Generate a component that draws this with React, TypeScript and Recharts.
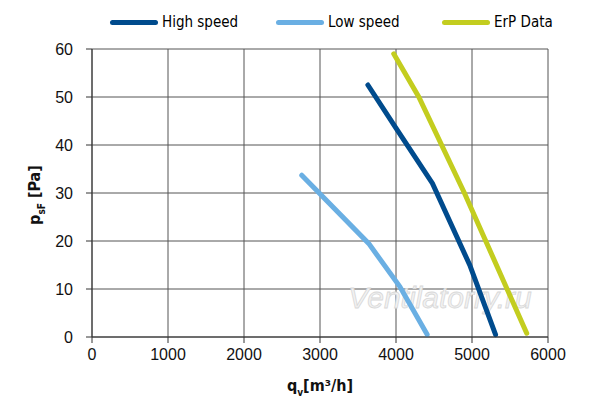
import { CartesianGrid, Label, Line, LineChart, XAxis, YAxis } from 'recharts';

const xTicks = [0, 1000, 2000, 3000, 4000, 5000, 6000];
const yTicks = [0, 10, 20, 30, 40, 50, 60];

const highSpeed = [
  { q: 3630, p: 52.5 },
  { q: 4000, p: 43.5 },
  { q: 4480, p: 32 },
  { q: 4970, p: 15 },
  { q: 5310, p: 0.5 },
];

const lowSpeed = [
  { q: 2760, p: 33.7 },
  { q: 3640, p: 19.5 },
  { q: 4050, p: 10.5 },
  { q: 4410, p: 0.5 },
];

const erpData = [
  { q: 3970, p: 59 },
  { q: 4300, p: 50 },
  { q: 4900, p: 30 },
  { q: 5720, p: 0.8 },
];

const series = [
  { name: 'High speed', data: highSpeed, color: '#004b8d' },
  { name: 'Low speed', data: lowSpeed, color: '#6aafe3' },
  { name: 'ErP Data', data: erpData, color: '#c3cd1f' },
];

const condensed = '"DejaVu Sans Condensed", "DejaVu Sans", sans-serif';
const plain = '"Liberation Sans", Arial, sans-serif';

// legend drawn on top so it doesn't eat plot space
function LegendRow() {
  return (
    <div
      style={{
        position: 'absolute',
        top: 12,
        left: 110,
        display: 'flex',
        whiteSpace: 'nowrap',
        fontFamily: condensed,
        fontStretch: 'condensed',
        fontSize: 15,
        lineHeight: '20px',
      }}
    >
      {series.map((s) => (
        <div key={s.name} style={{ display: 'flex', alignItems: 'center', width: 166 }}>
          <span style={{ width: 48, height: 5, borderRadius: 3, background: s.color, marginRight: 4 }} />
          <span style={{ color: '#000' }}>{s.name}</span>
        </div>
      ))}
    </div>
  );
}

export default function App() {
  return (
    <div style={{ position: 'absolute', left: 0, top: 0, width: 600, height: 406, background: '#fff' }}>
      <LineChart width={600} height={406} margin={{ top: 49, right: 52, bottom: 0, left: 32 }}>
        <CartesianGrid stroke="#555" strokeWidth={1} />
        <XAxis
          type="number"
          dataKey="q"
          domain={[0, 6000]}
          ticks={xTicks}
          height={69}
          stroke="#333"
          tickSize={6}
          tickMargin={6}
          tick={{ fill: '#111', fontSize: 16, fontFamily: plain }}
        >
          <Label
            content={() => (
              <text
                x={320}
                y={391}
                textAnchor="middle"
                fontFamily={condensed}
                fontStretch="condensed"
                fontWeight="bold"
                fontSize={16}
                fill="#111"
              >
                q<tspan dy={5} fontSize={10}>v</tspan>
                <tspan dy={-5}>[m³/h]</tspan>
              </text>
            )}
          />
        </XAxis>
        <YAxis
          type="number"
          dataKey="p"
          domain={[0, 60]}
          ticks={yTicks}
          width={60}
          stroke="#333"
          tickSize={6}
          tickMargin={13}
          tick={{ fill: '#111', fontSize: 16, fontFamily: plain }}
        >
          <Label
            content={() => (
              <text
                x={40}
                y={195}
                transform="rotate(-90 40 195)"
                textAnchor="middle"
                fontFamily={condensed}
                fontStretch="condensed"
                fontWeight="bold"
                fontSize={16}
                fill="#111"
              >
                p<tspan dy={5} fontSize={10}>sF</tspan>
                <tspan dy={-5}> [Pa]</tspan>
              </text>
            )}
          />
        </YAxis>
        {series.map((s) => (
          <Line
            key={s.name}
            name={s.name}
            data={s.data}
            dataKey="p"
            type="linear"
            stroke={s.color}
            strokeWidth={5}
            strokeLinecap="round"
            dot={false}
            activeDot={false}
            isAnimationActive={false}
          />
        ))}
        <text
          x={440}
          y={308}
          textAnchor="middle"
          fontFamily={plain}
          fontStyle="italic"
          fontSize={30}
          fill="#f2f2f2"
          stroke="#d8d8d8"
          strokeWidth={0.8}
        >
          Ventilatorry.ru
        </text>
      </LineChart>
      <LegendRow />
    </div>
  );
}
